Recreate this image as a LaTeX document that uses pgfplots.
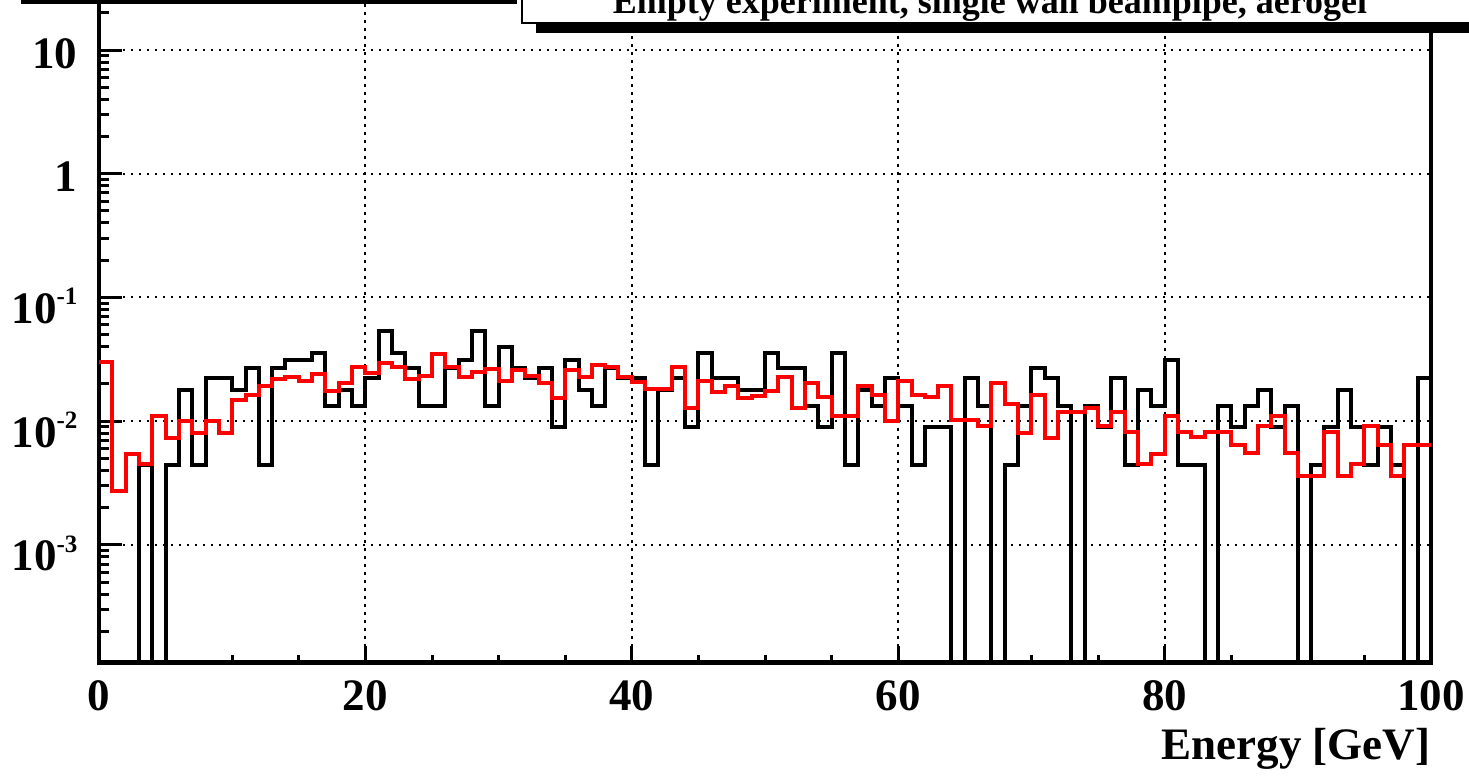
\documentclass[border=0pt]{standalone}
\usepackage{fontspec}
\setmainfont{Liberation Serif}
\usepackage{pgfplots}
\pgfplotsset{compat=1.18}
\usepackage{pgfplotstable}

\newcommand{\pw}[1]{\raisebox{-1.6pt}[\height][\depth]{10\raisebox{5.5pt}{\fontsize{7.5}{8}\selectfont #1}}}

\pgfplotstableread{
x b r
0 1e-6 0.0302
0 1e-6 0.0302
1 1e-6 0.00271
2 1e-6 0.00547
3 0.00445 0.00454
4 1e-6 0.01097
5 0.00445 0.00733
6 0.0178 0.0100
7 0.00445 0.00805
8 0.02225 0.0100
9 0.02225 0.00805
10 0.0178 0.0147
11 0.0267 0.01625
12 0.00445 0.0192
13 0.0267 0.0220
14 0.03115 0.0227
15 0.03115 0.0211
16 0.0356 0.0239
17 0.01335 0.0175
18 0.0178 0.0204
19 0.01335 0.0275
20 0.02225 0.0246
21 0.0534 0.0296
22 0.0356 0.0275
23 0.0267 0.0220
24 0.01335 0.0231
25 0.01335 0.0351
26 0.0267 0.0275
27 0.03115 0.0227
28 0.0534 0.0249
29 0.01335 0.0262
30 0.04005 0.0211
31 0.0267 0.0257
32 0.02225 0.0231
33 0.0267 0.0204
34 0.0089 0.0155
35 0.03115 0.0257
36 0.0178 0.0227
37 0.01335 0.0284
38 0.0267 0.0275
39 0.02225 0.0227
40 0.02225 0.0209
41 0.00445 0.0183
42 0.0178 0.0183
43 0.02225 0.0275
44 0.0089 0.0127
45 0.0356 0.0211
46 0.02225 0.0172
47 0.02225 0.0192
48 0.0178 0.0153
49 0.0178 0.0161
50 0.0356 0.0176
51 0.0267 0.0228
52 0.0267 0.0127
53 0.01335 0.0204
54 0.0089 0.0156
55 0.0356 0.0111
56 0.00445 0.0111
57 0.0178 0.0192
58 0.01335 0.0164
59 0.02225 0.0100
60 0.01335 0.0211
61 0.00445 0.0164
62 0.0089 0.0158
63 0.0089 0.0192
64 1e-6 0.0102
65 0.02225 0.0102
66 0.01335 0.0091
67 1e-6 0.0202
68 0.00445 0.0138
69 0.01335 0.0080
70 0.0267 0.0164
71 0.02225 0.0073
72 0.01335 0.0119
73 1e-6 0.0119
74 0.01335 0.0128
75 0.0089 0.0091
76 0.02225 0.0119
77 0.00445 0.0081
78 0.0178 0.00454
79 0.01335 0.00547
80 0.03115 0.0111
81 0.00445 0.0081
82 0.00445 0.0074
83 1e-6 0.0081
84 0.01335 0.0081
85 0.0089 0.0064
86 0.01335 0.0055
87 0.0178 0.0091
88 0.0089 0.0110
89 0.01335 0.0055
90 1e-6 0.0036
91 0.00445 0.0036
92 0.0089 0.0082
93 0.0178 0.0036
94 0.0089 0.0045
95 0.00445 0.0091
96 0.0089 0.0064
97 0.00445 0.0036
98 1e-6 0.0064
99 0.02225 0.0064
100 0.02225 0.0064
100 1e-6 0.0064
}\histdata

\begin{document}
\begin{tikzpicture}
\useasboundingbox (-29.7pt,-33.75pt) rectangle (411pt,198.75pt);
\begin{pgfinterruptboundingbox}
\begin{scope}
\clip (-29.7pt,-33.75pt) rectangle (411pt,198.75pt);
\begin{axis}[
  at={(0pt,0pt)}, anchor=south west,
  scale only axis, width=399.6pt, height=202.3pt,
  xmin=0, xmax=100, ymode=log, ymin=1.12e-4, ymax=31.62,
  xtick={0,20,...,100}, minor x tick num=3,
  xticklabels={0,20,40,60,80,100},
  ytick={1e-3,1e-2,1e-1,1,10},
  yticklabels={\pw{-3},\pw{-2},\pw{-1},1,10},
  minor ytick={2e-4,3e-4,4e-4,5e-4,6e-4,7e-4,8e-4,9e-4,
    2e-3,3e-3,4e-3,5e-3,6e-3,7e-3,8e-3,9e-3,
    0.02,0.03,0.04,0.05,0.06,0.07,0.08,0.09,
    0.2,0.3,0.4,0.5,0.6,0.7,0.8,0.9,
    2,3,4,5,6,7,8,9,20,30},
  xtick pos=bottom, ytick pos=left, tick align=inside,
  xtick style={black, line width=0.9pt, /pgfplots/major tick length=5pt, /pgfplots/minor tick length=2.2pt},
  ytick style={black, line width=0.9pt, /pgfplots/major tick length=7pt, /pgfplots/minor tick length=3pt},
  grid=major,
  major grid style={black, line width=0.6pt, dash pattern=on 0.7pt off 1.7pt},
  axis line style={black, line width=1.3pt},
  ticklabel style={font=\fontsize{13.5}{15}\selectfont\bfseries},
  xticklabel style={anchor=north, inner sep=0pt, yshift=-5.25pt},
  yticklabel style={anchor=east, inner sep=0pt, xshift=-6.3pt, yshift=-1pt},
  xlabel={Energy [GeV]},
  xlabel style={at={(axis description cs:1,0)}, anchor=north east, inner sep=0pt, yshift=-19.65pt, font=\fontsize{13.5}{15}\selectfont\bfseries},
  clip=true,
]
\addplot[const plot, black, line width=1.2pt] table[x=x,y=b]{\histdata};
\addplot[const plot, red, line width=1.2pt] table[x=x,y=r]{\histdata};
\end{axis}
\fill[black] (-23.4pt,197.55pt) rectangle (125.4pt,201pt);
\fill[black] (131.1pt,188.85pt) rectangle (420pt,205pt);
\filldraw[fill=white, draw=black, line width=0.45pt] (126.9pt,191.85pt) rectangle (418pt,212pt);
\node[anchor=base, font=\fontsize{10.8}{12}\selectfont\bfseries, inner sep=0pt] at (267.3pt,194.55pt) {Empty experiment, single wall beampipe, aerogel};
\end{scope}
\end{pgfinterruptboundingbox}
\end{tikzpicture}
\end{document}
